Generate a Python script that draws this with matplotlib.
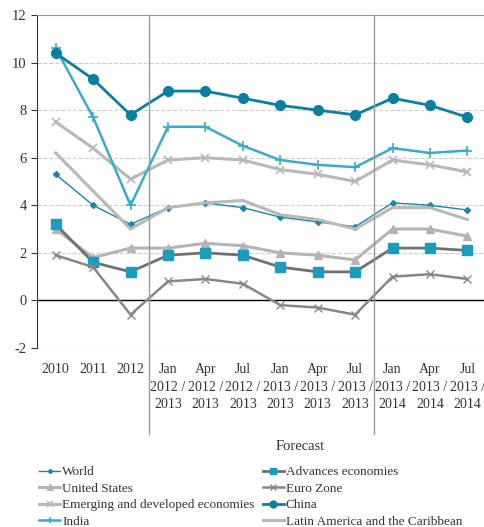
import numpy as np
import matplotlib.pyplot as plt

plt.rcParams["font.family"] = ["Liberation Serif", "DejaVu Serif"]
plt.rcParams["font.size"] = 10
plt.rcParams["axes.unicode_minus"] = False

# 横轴标签
labels = ["2010", "2011", "2012",
          "Jan\n2012 /\n2013", "Apr\n2012 /\n2013", "Jul\n2012 /\n2013",
          "Jan\n2013 /\n2013", "Apr\n2013 /\n2013", "Jul\n2013 /\n2013",
          "Jan\n2013 /\n2014", "Apr\n2013 /\n2014", "Jul\n2013 /\n2014"]

# 各经济体增长率（%）
world = [5.3, 4.0, 3.2, 3.9, 4.1, 3.9, 3.5, 3.3, 3.1, 4.1, 4.0, 3.8]
united_states = [3.0, 1.8, 2.2, 2.2, 2.4, 2.3, 2.0, 1.9, 1.7, 3.0, 3.0, 2.7]
emerging = [7.5, 6.4, 5.1, 5.9, 6.0, 5.9, 5.5, 5.3, 5.0, 5.9, 5.7, 5.4]
india = [10.6, 7.7, 4.0, 7.3, 7.3, 6.5, 5.9, 5.7, 5.6, 6.4, 6.2, 6.3]
advanced = [3.2, 1.6, 1.2, 1.9, 2.0, 1.9, 1.4, 1.2, 1.2, 2.2, 2.2, 2.1]
euro_zone = [1.9, 1.4, -0.6, 0.8, 0.9, 0.7, -0.2, -0.3, -0.6, 1.0, 1.1, 0.9]
china = [10.4, 9.3, 7.8, 8.8, 8.8, 8.5, 8.2, 8.0, 7.8, 8.5, 8.2, 7.7]
latam = [6.2, 4.6, 3.0, 3.9, 4.1, 4.2, 3.6, 3.4, 3.0, 3.9, 3.9, 3.4]

x = np.arange(len(labels))

fig = plt.figure(figsize=(4.84, 5.27), dpi=100)
ax = fig.add_axes([0.0764, 0.3397, 0.928, 0.6319])

ax.plot(x, world, color='#1a86a6', lw=1.0, marker='D', ms=3, label='World')
ax.plot(x, united_states, color='#b4b4b4', lw=2.2, marker='^', ms=6, label='United States')
ax.plot(x, emerging, color='#b8b8bc', lw=2.2, marker='x', ms=6, mew=1.2, label='Emerging and developed economies')
ax.plot(x, india, color='#3aaccb', lw=1.8, marker='+', ms=7, mew=1.2, label='India')
ax.plot(x, advanced, color='#707070', lw=2.0, marker='s', ms=6.5, mfc='#1a9cbf', mec='#1a9cbf', label='Advances economies')
ax.plot(x, euro_zone, color='#878787', lw=1.8, marker='x', ms=6, mew=1.0, label='Euro Zone')
ax.plot(x, china, color='#0a7fa0', lw=2.0, marker='o', ms=7, label='China')
ax.plot(x, latam, color='#b8b8b8', lw=2.2, label='Latin America and the Caribbean')

ax.set_xlim(-0.5, 11.5)
ax.set_ylim(-2, 12)
ax.set_yticks(range(-2, 13, 2))
ax.set_xticks(x)
ax.set_xticklabels(labels, fontsize=10, color='#333333', linespacing=1.45)
ax.tick_params(axis='x', length=0, pad=11)
ax.tick_params(axis='y', length=4, direction='out', colors='#333333', labelsize=10.5)

# 网格线
for v in range(2, 12, 2):
    ax.axhline(v, color='#cccccc', lw=0.8, ls='--', zorder=0)
ax.axhline(-2, color='#bbbbbb', lw=0.8, ls='--', zorder=0)
ax.axhline(0, color='black', lw=1.0, zorder=1)

for s in ['right', 'bottom']:
    ax.spines[s].set_visible(False)
ax.spines['top'].set_color('#999999')
ax.spines['left'].set_color('#333333')

# 预测区间分隔线
trans = ax.get_xaxis_transform()
for xv in [2.5, 8.5]:
    ax.plot([xv, xv], [-0.258, 1.0], transform=trans, color='#999999', lw=1.0, clip_on=False)

fig.text(300 / 484, 1 - 446 / 527, 'Forecast', ha='center', va='center', fontsize=10.5, color='#333333')

fig.legend(loc='upper left', bbox_to_anchor=(0.062, 1 - 457 / 527), ncol=2, frameon=False,
           fontsize=9.5, handlelength=1.6, handletextpad=0.15, columnspacing=0.6,
           labelspacing=0.32, markerscale=0.7, labelcolor='#333333', borderpad=0.2)

plt.savefig('out.png', dpi=100)
